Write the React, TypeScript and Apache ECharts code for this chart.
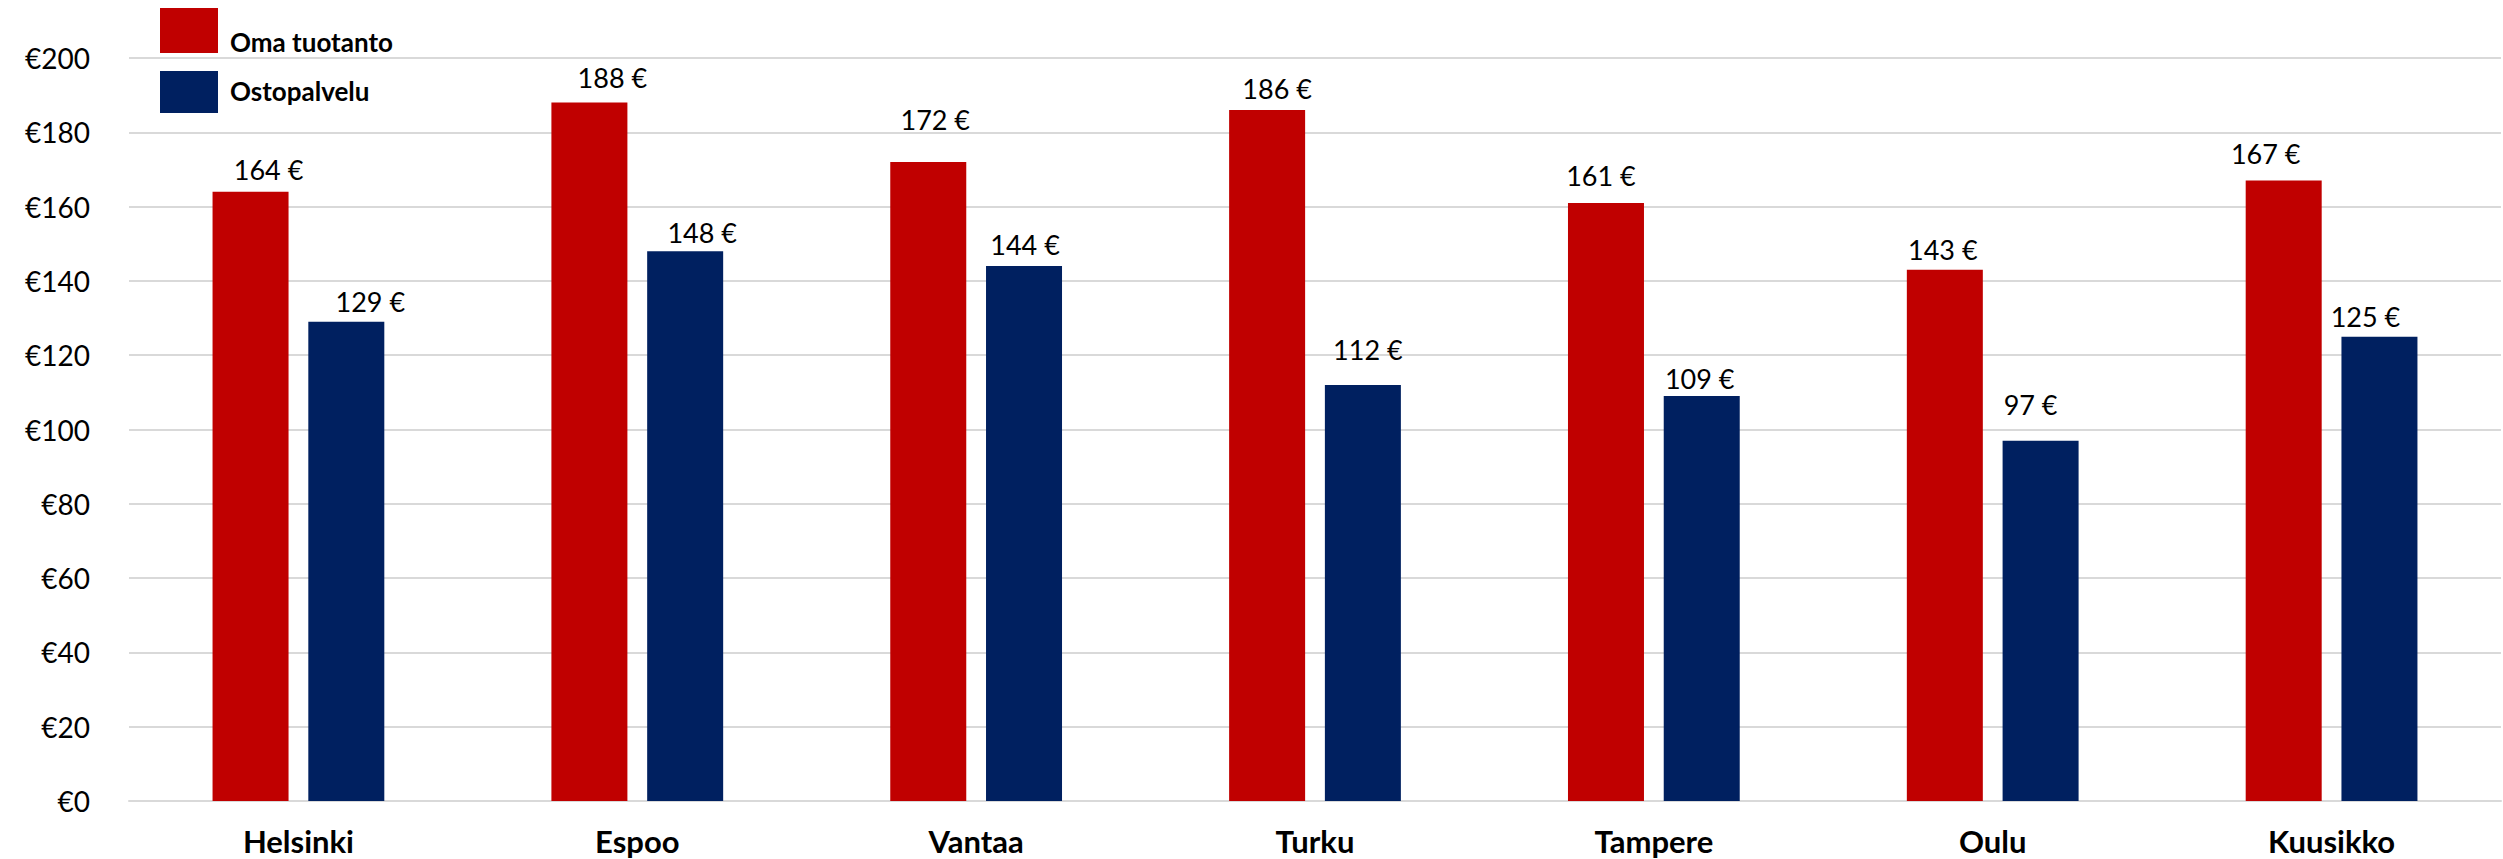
import React, { useEffect, useRef } from "react";
import * as echarts from "echarts";

const categories = ["Helsinki", "Espoo", "Vantaa", "Turku", "Tampere", "Oulu", "Kuusikko"];
const seriesNames = ["Oma tuotanto", "Ostopalvelu"];
const omaTuotanto = [164, 188, 172, 186, 161, 143, 167];
const ostopalvelu = [129, 148, 144, 112, 109, 97, 125];
const yTicks = { min: 0, max: 200, interval: 20 };

// label placement styles (manually placed labels in the original)
const omaLabelDx = [18, 23, 7, 10, -5, -2, -18];
const omaLabelGap = [14, 17, 34, 13, 19, 12, 19];
const ostoLabelDx = [24, 17, 1, 5, -2, -10, -14];
const ostoLabelGap = [12, 10, 13, 27, 9, 28, 12];

const RED = "#C00000";
const NAVY = "#002060";
const FONT = "Lato, 'Noto Sans', sans-serif";

function buildData(values: number[], dx: number[], gap: number[]) {
  return values.map((v, i) => ({
    value: v,
    label: { offset: [dx[i], 0], distance: Math.max(0, gap[i] - 5) },
  }));
}

export default function App() {
  const ref = useRef<HTMLDivElement>(null);
  useEffect(() => {
    document.body.style.margin = "0";
    if (!ref.current) return;
    const chart = echarts.init(ref.current, null, { renderer: "svg" });
    const labelStyle = {
      show: true,
      position: "top",
      formatter: "{c} €",
      fontFamily: FONT,
      fontSize: 27,
      color: "#000",
    };
    const legendText = (text: string, y: number) => ({
      type: "text",
      left: 230,
      top: y,
      style: {
        text,
        fontFamily: FONT,
        fontWeight: "bold",
        fontSize: 26,
        fill: "#000",
      },
    });
    chart.setOption({
      animation: false,
      backgroundColor: "#fff",
      grid: { left: 129, right: 2, top: 58, bottom: 58, containLabel: false },
      graphic: [
        { type: "rect", left: 160, top: 8, shape: { width: 58, height: 45 }, style: { fill: RED } },
        { type: "rect", left: 160, top: 71, shape: { width: 58, height: 42 }, style: { fill: NAVY } },
        legendText(seriesNames[0], 29),
        legendText(seriesNames[1], 78),
      ],
      xAxis: {
        type: "category",
        data: categories,
        axisTick: { show: false },
        axisLine: { show: true, lineStyle: { color: "#d9d9d9", width: 2 } },
        axisLabel: {
          margin: 24,
          fontFamily: FONT,
          fontWeight: "bold",
          fontSize: 31,
          color: "#000",
        },
      },
      yAxis: {
        type: "value",
        min: yTicks.min,
        max: yTicks.max,
        interval: yTicks.interval,
        axisLine: { show: false },
        axisTick: { show: false },
        splitLine: { lineStyle: { color: "#d9d9d9", width: 2 } },
        axisLabel: {
          margin: 39,
          formatter: "€{value}",
          fontFamily: FONT,
          fontSize: 28,
          color: "#000",
        },
      },
      series: [
        {
          name: seriesNames[0],
          type: "bar",
          barWidth: 76,
          barGap: "26%",
          itemStyle: { color: RED },
          label: labelStyle,
          data: buildData(omaTuotanto, omaLabelDx, omaLabelGap),
        },
        {
          name: seriesNames[1],
          type: "bar",
          barWidth: 76,
          barGap: "26%",
          itemStyle: { color: NAVY },
          label: labelStyle,
          data: buildData(ostopalvelu, ostoLabelDx, ostoLabelGap),
        },
      ],
    });
    return () => chart.dispose();
  }, []);
  return <div ref={ref} style={{ width: 2503, height: 859 }} />;
}
